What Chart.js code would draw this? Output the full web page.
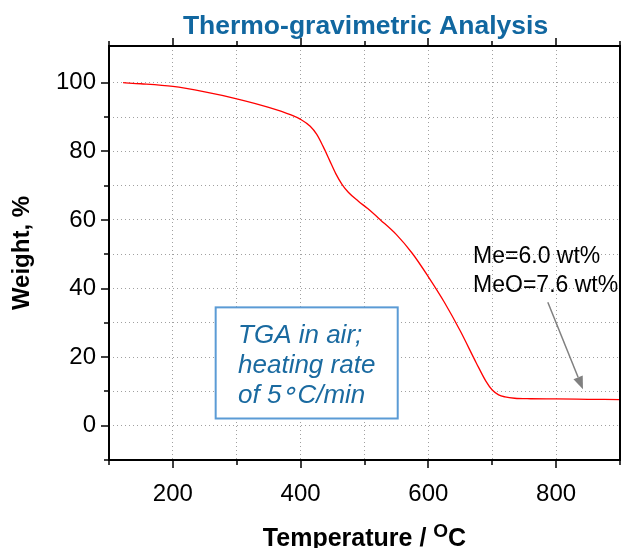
<!DOCTYPE html>
<html><head><meta charset="utf-8">
<script src="https://cdn.jsdelivr.net/npm/chart.js@4/dist/chart.umd.min.js"></script>
<style>html,body{margin:0;padding:0;background:#fff}canvas{display:block}</style>
</head><body>
<canvas id="c" width="621" height="548"></canvas>
<script>
// ---- data ----
const temperature = [122,150,200,250,300,350,385,400,415,425,435,445,455,465,475,490,505,525,550,575,600,625,650,675,690,700,710,720,735,760,800,850,900];
const weight      = [100,99.7,98.9,97.3,95.3,92.8,90.6,89.3,87.3,85.0,81.5,77.5,73.5,70.3,68.0,65.5,63.3,60.0,55.7,50.2,43.4,36.0,27.6,18.3,13.0,10.4,9.0,8.4,8.0,7.85,7.8,7.7,7.6];
const xRange = [100, 900];
const yRange = [-10, 110.7];
const xMajorStep = 200, xMinorStep = 100;
const yMajorStep = 20, yMinorStep = 10;
const titleText = 'Thermo-gravimetric Analysis';
const xTitleParts = ['Temperature / ', 'O', 'C'];
const yTitleText = 'Weight, %';
const boxLines = [['TGA in air;'], ['heating rate'], ['of 5', '\u2218', 'C/min']];
const noteLines = ['Me=6.0 wt%', 'MeO=7.6 wt%'];

const FONT = "'Liberation Sans', Arial, sans-serif";

const decor = {
  id: 'decor',
  afterDraw(chart) {
    const {ctx, chartArea: a, scales: {x, y}} = chart;
    ctx.save();
    // frame
    ctx.strokeStyle = '#000'; ctx.lineWidth = 2;
    ctx.strokeRect(a.left, a.top, a.right - a.left, a.bottom - a.top);
    // tick marks
    ctx.lineWidth = 1.5;
    x.ticks.forEach(t => {
      const v = t.value;
      if (Math.abs(v / xMinorStep - Math.round(v / xMinorStep)) > 1e-6) return;
      const len = (v % xMajorStep === 0) ? 8 : 5;
      const px = Math.round(x.getPixelForValue(v));
      ctx.beginPath();
      ctx.moveTo(px, a.bottom); ctx.lineTo(px, a.bottom + len);
      ctx.moveTo(px, a.top); ctx.lineTo(px, a.top - len);
      ctx.stroke();
    });
    y.ticks.forEach(t => {
      const v = t.value;
      if (Math.abs(v / yMinorStep - Math.round(v / yMinorStep)) > 1e-6) return;
      const len = (v % yMajorStep === 0) ? 8 : 5;
      const py = Math.round(y.getPixelForValue(v));
      ctx.beginPath();
      ctx.moveTo(a.left, py); ctx.lineTo(a.left - len, py);
      ctx.stroke();
    });
    // title
    const cx = (a.left + a.right) / 2;
    ctx.fillStyle = '#1167a0';
    ctx.font = 'bold 26.5px ' + FONT;
    ctx.textAlign = 'center'; ctx.textBaseline = 'alphabetic';
    ctx.fillText(titleText, cx + 1, 34);
    // x axis title with superscript
    ctx.fillStyle = '#000';
    const big = 'bold 25px ' + FONT, small = 'bold 19px ' + FONT;
    ctx.font = big; const w1 = ctx.measureText(xTitleParts[0]).width, w3 = ctx.measureText(xTitleParts[2]).width;
    ctx.font = small; const w2 = ctx.measureText(xTitleParts[1]).width;
    let sx = cx - (w1 + w2 + w3) / 2;
    const by = 546;
    ctx.textAlign = 'left';
    ctx.font = big; ctx.fillText(xTitleParts[0], sx, by); sx += w1;
    ctx.font = small; ctx.fillText(xTitleParts[1], sx, by - 9); sx += w2;
    ctx.font = big; ctx.fillText(xTitleParts[2], sx, by);
    // annotation box
    const bx1 = x.getPixelForValue(267), bx2 = x.getPixelForValue(552);
    const by1 = y.getPixelForValue(34.5), by2 = y.getPixelForValue(2.1);
    ctx.fillStyle = '#fff';
    ctx.fillRect(bx1, by1, bx2 - bx1, by2 - by1);
    ctx.strokeStyle = '#5b9bd5'; ctx.lineWidth = 2;
    ctx.strokeRect(bx1, by1, bx2 - bx1, by2 - by1);
    ctx.fillStyle = '#1a6aa0';
    ctx.font = 'italic 26px ' + FONT;
    const tx0 = x.getPixelForValue(302);
    boxLines.forEach((parts, i) => {
      let tx = tx0;
      const ty = by1 + 36 + i * 30;
      parts.forEach(s => {
        const raise = (s === '\u2218') ? 4 : 0;
        ctx.fillText(s, tx, ty - raise);
        tx += ctx.measureText(s).width;
      });
    });
    // note text
    ctx.fillStyle = '#000';
    ctx.font = '23px ' + FONT;
    const nx = x.getPixelForValue(670);
    noteLines.forEach((s, i) => ctx.fillText(s, nx, y.getPixelForValue(47.5) + i * 29));
    // arrow
    const ax1 = x.getPixelForValue(787), ay1 = y.getPixelForValue(36);
    const ax2 = x.getPixelForValue(842), ay2 = y.getPixelForValue(10.6);
    ctx.strokeStyle = '#808080'; ctx.fillStyle = '#808080'; ctx.lineWidth = 1.5;
    const ang = Math.atan2(ay2 - ay1, ax2 - ax1);
    const hl = 13, hw = 5;
    const bxh = ax2 - hl * Math.cos(ang), byh = ay2 - hl * Math.sin(ang);
    ctx.beginPath(); ctx.moveTo(ax1, ay1); ctx.lineTo(bxh, byh); ctx.stroke();
    ctx.beginPath();
    ctx.moveTo(ax2, ay2);
    ctx.lineTo(bxh + hw * Math.sin(ang), byh - hw * Math.cos(ang));
    ctx.lineTo(bxh - hw * Math.sin(ang), byh + hw * Math.cos(ang));
    ctx.closePath(); ctx.fill();
    ctx.restore();
  }
};

new Chart(document.getElementById('c'), {
  type: 'line',
  data: {
    datasets: [{
      data: temperature.map((t, i) => ({x: t, y: weight[i]})),
      borderColor: '#ff0000', borderWidth: 1.3, pointRadius: 0,
      cubicInterpolationMode: 'monotone', fill: false
    }]
  },
  options: {
    responsive: false, animation: false, devicePixelRatio: 1,
    layout: {padding: {top: 46, right: 1, left: 0, bottom: 0}},
    plugins: {legend: {display: false}, tooltip: {enabled: false}, title: {display: false}},
    scales: {
      x: {
        type: 'linear', min: xRange[0], max: xRange[1],
        afterFit(s) { s.height = 88; s.paddingLeft = 0; s.paddingRight = 0; },
        ticks: {stepSize: xMinorStep, autoSkip: false, maxRotation: 0, padding: 20, color: '#000',
          font: {family: FONT, size: 24},
          callback: v => (v % xMajorStep === 0 ? String(v) : '')},
        grid: {color: '#a0a0a0', lineWidth: 1, drawTicks: false},
        border: {display: false, dash: [1, 3]}
      },
      y: {
        type: 'linear', min: yRange[0], max: yRange[1],
        afterFit(s) { s.width = 109; s.paddingTop = 0; s.paddingBottom = 0; },
        ticks: {stepSize: yMinorStep, autoSkip: false, padding: 13, color: '#000',
          font: {family: FONT, size: 24},
          callback: v => (v % yMajorStep === 0 && v >= 0 && v <= 100 ? String(v) : '')},
        grid: {color: '#a0a0a0', lineWidth: 1, drawTicks: false},
        border: {display: false, dash: [1, 3]},
        title: {display: true, text: yTitleText, color: '#000', padding: {top: 8, bottom: 0},
          font: {family: FONT, size: 24, weight: 'bold'}}
      }
    }
  },
  plugins: [decor]
});
</script>
</body></html>
